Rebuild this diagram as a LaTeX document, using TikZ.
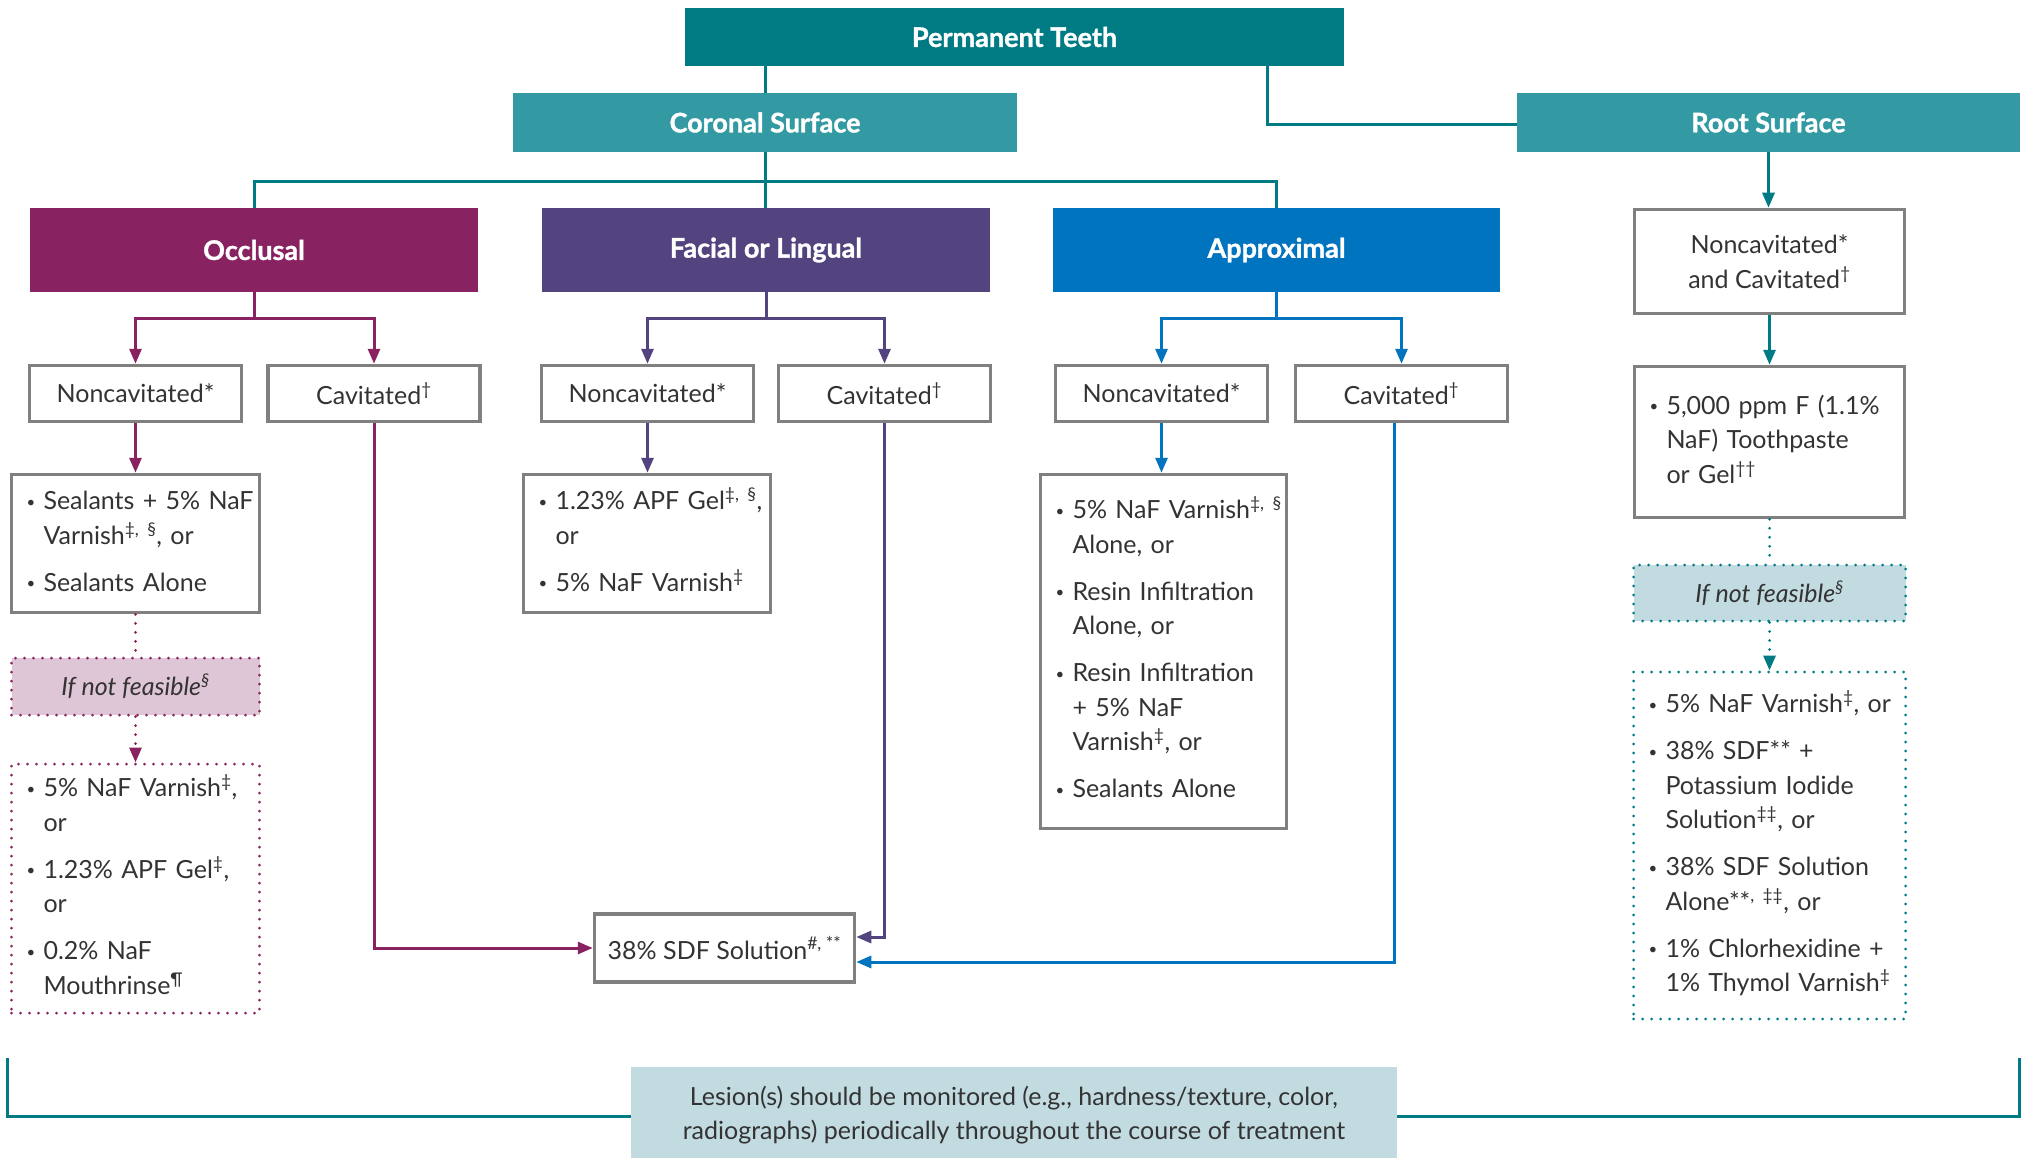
\documentclass[tikz,border=0pt]{standalone}
\usepackage{fontspec}
\setmainfont{Lato}
\newfontfamily\hdrfont{Lato}[BoldFeatures={FakeBold=1.2}]
\usetikzlibrary{arrows.meta}
\definecolor{tealdark}{RGB}{0,123,132}
\definecolor{teallight}{RGB}{51,154,163}
\definecolor{occ}{RGB}{136,34,96}
\definecolor{fac}{RGB}{83,67,126}
\definecolor{app}{RGB}{0,116,191}
\definecolor{pinkfill}{RGB}{223,198,215}
\definecolor{bluefill}{RGB}{194,219,225}
\definecolor{boxgray}{RGB}{128,128,128}
\definecolor{txt}{RGB}{51,51,51}
\newcommand{\bodyfont}{\fontsize{25}{34.5}\selectfont}
\newcommand{\bul}{{\fontsize{15}{15}\selectfont\raisebox{2.5pt}{•}}}
\newcommand{\sps}[1]{\textsuperscript{#1}}
\newcommand{\gap}{\\[12.5pt]}
\newenvironment{blist}{\begin{tabular}{@{}p{18pt}@{}l@{}}}{\end{tabular}}
\newcommand{\B}{\hspace*{1pt}\bul}
\tikzset{
  hdr/.style={rectangle, inner sep=0pt, text=white, font=\hdrfont\fontsize{27}{30}\selectfont\bfseries},
  gbox/.style={rectangle, draw=boxgray, line width=3.5pt, fill=white, text=txt, font=\bodyfont, inner sep=0pt, align=center},
  lbox/.style={rectangle, draw=boxgray, line width=3.5pt, fill=white, text=txt, font=\bodyfont, inner xsep=14pt, inner ysep=0pt, align=left},
  dbox/.style={rectangle, line width=3pt, line cap=round, dash pattern=on 0pt off 9pt, text=txt, font=\bodyfont, inner xsep=14pt, inner ysep=0pt, align=left},
  conn/.style={line width=3pt},
  dotline/.style={line cap=round, dash pattern=on 0pt off 9pt},
  arr/.style={-{Triangle[length=15pt,width=12pt]}},
}
\begin{document}
\begin{tikzpicture}[x=1pt,y=-1pt]
\useasboundingbox[fill=white] (0,0) rectangle (2023,1158);
% headers
\node[hdr, fill=tealdark, minimum width=659pt, minimum height=58pt] (perm) at (1014.5,37) {Permanent Teeth};
\node[hdr, fill=teallight, minimum width=504pt, minimum height=59pt] (cor) at (765,122.5) {Coronal Surface};
\node[hdr, fill=teallight, minimum width=503pt, minimum height=59pt] (root) at (1768.5,122.5) {Root Surface};
\node[hdr, fill=occ, minimum width=448pt, minimum height=84pt] (occl) at (254,250) {Occlusal};
\node[hdr, fill=fac, minimum width=448pt, minimum height=84pt] (facl) at (766,250) {Facial or Lingual};
\node[hdr, fill=app, minimum width=447pt, minimum height=84pt] (appr) at (1276.5,250) {Approximal};
% status boxes
\node[gbox, minimum width=212pt, minimum height=56pt] (onc) at (135.5,393.5) {Noncavitated*};
\node[gbox, minimum width=212pt, minimum height=56pt] (oc) at (374,393.5) {Cavitated\sps{†}};
\node[gbox, minimum width=212pt, minimum height=56pt] (fnc) at (647.5,393.5) {Noncavitated*};
\node[gbox, minimum width=212pt, minimum height=56pt] (fc) at (884.5,393.5) {Cavitated\sps{†}};
\node[gbox, minimum width=212pt, minimum height=56pt] (anc) at (1161.5,393.5) {Noncavitated*};
\node[gbox, minimum width=212pt, minimum height=56pt] (ac) at (1401.5,393.5) {Cavitated\sps{†}};
\node[gbox, minimum width=270pt, minimum height=104pt] (rst) at (1769.5,261.5) {Noncavitated*\\and Cavitated\sps{†}};
% occlusal lists
\node[lbox, text width=220pt, minimum height=138pt] (ol1) at (135.5,543.5) {\begin{blist}\B & Sealants + 5\% NaF\\ & Varnish\sps{‡, §}, or\gap \B & Sealants Alone\end{blist}};
\node[dbox, draw=occ, fill=pinkfill, minimum width=248pt, minimum height=57pt, align=center] (oif) at (135.5,686.5) {\itshape If not feasible\sps{§}};
\node[dbox, draw=occ, text width=220pt, minimum height=249pt] (ol2) at (135.5,888.5) {\begin{blist}\B & 5\% NaF Varnish\sps{‡},\\ & or\gap \B & 1.23\% APF Gel\sps{‡},\\ & or\gap \B & 0.2\% NaF\\ & Mouthrinse\sps{¶}\end{blist}};
% facial list
\node[lbox, text width=219pt, minimum height=138pt] (fl) at (647,543.5) {\begin{blist}\B & 1.23\% APF Gel\sps{‡, §},\\ & or\gap \B & 5\% NaF Varnish\sps{‡}\end{blist}};
% approximal list
\node[lbox, text width=218pt, minimum height=354pt] (al) at (1163.5,651.5) {\begin{blist}\B & 5\% NaF Varnish\sps{‡, §}\\ & Alone, or\gap \B & Resin Infiltration\\ & Alone, or\gap \B & Resin Infiltration\\ & + 5\% NaF\\ & Varnish\sps{‡}, or\gap \B & Sealants Alone\end{blist}};
% SDF
\node[gbox, minimum width=260pt, minimum height=68pt] (sdf) at (724.5,948) {38\% SDF Solution\sps{\#, **}};
% root lists
\node[lbox, text width=242pt, minimum height=151pt] (rl1) at (1769.5,442) {\begin{blist}\B & 5,000 ppm F (1.1\%\\ & NaF) Toothpaste\\ & or Gel\sps{††}\end{blist}};
\node[dbox, draw=tealdark, fill=bluefill, minimum width=272pt, minimum height=56pt, align=center] (rif) at (1769.5,593) {\itshape If not feasible\sps{§}};
\node[dbox, draw=tealdark, text width=244pt, minimum height=347pt] (rl2) at (1769.5,845.5) {\begin{blist}\B & 5\% NaF Varnish\sps{‡}, or\gap \B & 38\% SDF** +\\ & Potassium Iodide\\ & Solution\sps{‡‡}, or\gap \B & 38\% SDF Solution\\ & Alone**\sps{, ‡‡}, or\gap \B & 1\% Chlorhexidine +\\ & 1\% Thymol Varnish\sps{‡}\end{blist}};
% lesion
\node[rectangle, fill=bluefill, text=txt, font=\bodyfont, align=center, minimum width=766pt, minimum height=96pt, inner sep=0pt] (les) at (1014,1115) {Lesion(s) should be monitored (e.g., hardness/texture, color,\\radiographs) periodically throughout the course of treatment};
\coordinate (bl) at (7,1058);
\coordinate (br) at (2019,1058);
% connectors: top
\draw[conn, tealdark] (perm.south -| cor.north) -- (cor.north);
\draw[conn, tealdark] ([xshift=252.5pt]perm.south) |- ([yshift=-2pt]root.west);
\draw[conn, tealdark] (cor.south) -- (cor.south |- facl.north);
\path (cor.south) ++(0,29) coordinate (cj);
\draw[conn, tealdark] (occl.north) |- (cj) -| (appr.north);
% occlusal
\path (occl.south) ++(0,26) coordinate (oj);
\draw[conn, occ] (occl.south) -- (oj);
\draw[conn, occ, arr] (oj) -| (onc.north);
\draw[conn, occ, arr] (oj) -| (oc.north);
\draw[conn, occ, arr] (onc.south) -- (ol1.north);
\draw[conn, occ, dotline] (ol1.south) -- (oif.north);
\draw[conn, occ, dotline, arr] (oif.south) -- (ol2.north);
\draw[conn, occ, arr] (oc.south) |- (sdf.west);
% facial
\path (facl.south) ++(0,26) coordinate (fj);
\draw[conn, fac] (facl.south) -- (fj);
\draw[conn, fac, arr] (fj) -| (fnc.north);
\draw[conn, fac, arr] (fj) -| (fc.north);
\draw[conn, fac, arr] (fnc.south) -- (fnc.south |- fl.north);
\draw[conn, fac, arr] (fc.south) |- ([yshift=11pt]sdf.east);
% approximal
\path (appr.south) ++(0,26) coordinate (aj);
\draw[conn, app] (appr.south) -- (aj);
\draw[conn, app, arr] (aj) -| (anc.north);
\draw[conn, app, arr] (aj) -| (ac.north);
\draw[conn, app, arr] (anc.south) -- (anc.south |- al.north);
\draw[conn, app, arr] ([xshift=-7pt]ac.south) |- ([yshift=-14pt]sdf.east);
% root
\draw[conn, tealdark, arr] (root.south) -- (root.south |- rst.north);
\draw[conn, tealdark, arr] (rst.south) -- (rl1.north);
\draw[conn, tealdark, dotline] (rl1.south) -- (rif.north);
\draw[conn, tealdark, dotline, arr] (rif.south) -- (rl2.north);
% bracket
\draw[conn, tealdark] (bl) |- ([yshift=-1pt]les.west);
\draw[conn, tealdark] ([yshift=-1pt]les.east) -| (br);
\end{tikzpicture}
\end{document}
